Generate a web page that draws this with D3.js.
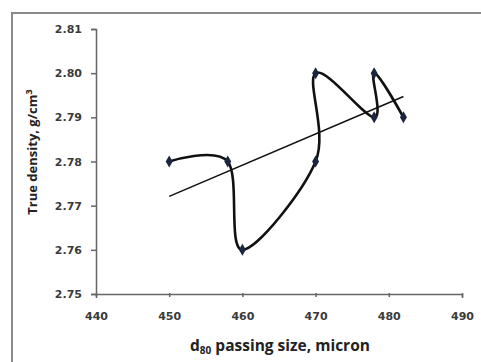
<!DOCTYPE html>
<html><head><meta charset="utf-8">
<script src="https://cdn.jsdelivr.net/npm/d3@7"></script>
<style>body{margin:0;background:#fff;} svg{display:block;}</style>
</head><body>
<script>
const xValues = [450, 458, 460, 470, 470, 478, 478, 482];
const yValues = [2.78, 2.78, 2.76, 2.78, 2.80, 2.79, 2.80, 2.79];
const xTicks = [440, 450, 460, 470, 480, 490];
const yTicks = [2.75, 2.76, 2.77, 2.78, 2.79, 2.80, 2.81];

const W = 481, H = 362;
const svg = d3.select("body").append("svg").attr("width", W).attr("height", H);
svg.append("rect").attr("x", 12).attr("y", 13).attr("width", 480).attr("height", 360)
  .attr("fill", "none").attr("stroke", "#8a8a8a").attr("stroke-width", 2);

const x = d3.scaleLinear().domain([440, 490]).range([96, 462]);
const y = d3.scaleLinear().domain([2.75, 2.81]).range([294, 29]);
const tickFont = "'DejaVu Sans', sans-serif";
const font = "'Open Sans', 'Liberation Sans', sans-serif";

const yAxis = svg.append("g").attr("transform", "translate(96,0)")
  .call(d3.axisLeft(y).tickValues(yTicks).tickFormat(d3.format(".2f")).tickSizeOuter(0).tickSize(5).tickPadding(9));
const xAxis = svg.append("g").attr("transform", "translate(0,294)")
  .call(d3.axisBottom(x).tickValues(xTicks).tickFormat(d3.format("d")).tickSizeOuter(0).tickSize(4).tickPadding(14));
[yAxis, xAxis].forEach(g => {
  g.select(".domain").attr("stroke", "#666").attr("stroke-width", 1.5);
  g.selectAll(".tick line").attr("stroke", "#666").attr("stroke-width", 1.5);
  g.selectAll(".tick text").attr("fill", "#3a3a3a").style("font-family", tickFont)
    .style("font-size", "11px").style("font-weight", "bold");
});
xAxis.selectAll(".tick line").attr("y1", -1).attr("y2", 3);

// least-squares trendline through the data
const mx = d3.mean(xValues), my = d3.mean(yValues);
const slope = d3.sum(xValues.map((v, i) => (v - mx) * (yValues[i] - my))) / d3.sum(xValues.map(v => (v - mx) ** 2));
const icpt = my - slope * mx;
const tx = [d3.min(xValues), d3.max(xValues)];
svg.append("line").attr("x1", x(tx[0])).attr("y1", y(icpt + slope * tx[0]))
  .attr("x2", x(tx[1])).attr("y2", y(icpt + slope * tx[1]))
  .attr("stroke", "#111").attr("stroke-width", 1.6);

const pts = xValues.map((v, i) => [v, yValues[i]]);
svg.append("path").datum(pts)
  .attr("d", d3.line().x(d => x(d[0])).y(d => y(d[1])).curve(d3.curveCardinal.tension(0)))
  .attr("fill", "none").attr("stroke", "#111").attr("stroke-width", 2.6);

svg.selectAll(".m").data(pts).enter().append("path")
  .attr("transform", d => `translate(${x(d[0])},${y(d[1])})`)
  .attr("d", d3.symbol().type(d3.symbolDiamond).size(42))
  .attr("fill", "#1b2540");

svg.append("text").attr("transform", "translate(37,152) rotate(-90)")
  .attr("text-anchor", "middle").style("font-family", font).style("font-size", "13px")
  .style("font-weight", "bold").attr("fill", "#222")
  .text("True density, g/cm").append("tspan").attr("dy", -5).style("font-size", "9px").text("3");

const xt = svg.append("text").attr("x", 280).attr("y", 351).attr("text-anchor", "middle")
  .style("font-family", font).style("font-size", "15.5px").style("font-weight", "bold").attr("fill", "#222");
xt.append("tspan").text("d");
xt.append("tspan").attr("dy", 3).style("font-size", "10px").text("80");
xt.append("tspan").attr("dy", -3).text(" passing size, micron");
</script>
</body></html>
